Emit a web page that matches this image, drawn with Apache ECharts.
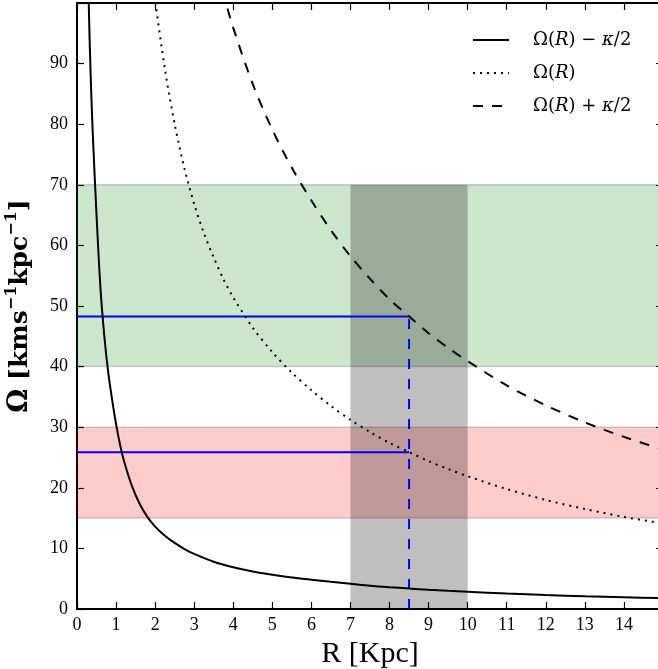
<!DOCTYPE html>
<html>
<head>
<meta charset="utf-8">
<script src="https://cdn.jsdelivr.net/npm/echarts@6/dist/echarts.min.js"></script>
<style>
html,body{margin:0;padding:0;background:#fff;}
#chart{width:658px;height:669px;}
</style>
</head>
<body>
<div id="chart"></div>
<script>
// ---- data ----
const R_MINUS = [0.2,0.25,0.3,0.35,0.4,0.5,0.6,0.7,0.8,0.9,1.0,1.1,1.2,1.4,1.6,1.8,2.0,2.25,2.5,2.75,3.0,3.5,4.0,4.5,5.0,5.5,6.0,6.5,7.0,7.5,8.0,8.5,9.0,9.5,10,11,12,13,14,15];
const OMEGA_MINUS = [150,120,100,88,79,65,53,45,39,34.5,30.5,27.2,24.5,20.4,17.4,15.2,13.6,12.1,10.9,9.9,9.1,7.8,6.9,6.2,5.66,5.2,4.83,4.48,4.17,3.85,3.6,3.38,3.18,3.0,2.85,2.55,2.3,2.1,1.93,1.78];

const R_MID = [1.9,2.0,2.25,2.5,2.75,3.0,3.25,3.5,3.75,4.0,4.5,5.0,5.5,6.0,6.5,7.0,7.5,8.0,8.5,9.0,9.5,10,11,12,13,14,15];
const OMEGA_MID = [105.8,100.5,89.1,80.0,72.7,66.8,62.0,58.0,54.4,51.4,46.4,42.4,39.0,36.1,33.5,31.2,29.2,27.4,25.9,24.4,23.1,21.9,19.8,18.0,16.5,15.2,14.1];

const R_PLUS = [3.5,3.75,4.0,4.5,5.0,5.5,6.0,6.5,7.0,7.5,8.0,8.5,9.0,9.5,10,11,12,13,14,15];
const OMEGA_PLUS = [108.2,101.5,95.9,86.6,79.1,72.8,67.4,62.5,58.2,54.5,51.1,48.3,45.5,43.1,40.9,36.9,33.6,30.8,28.4,26.3];

const R_SUN = 8.5;
const OMEGA_SUN_PLUS = 48.28;
const OMEGA_SUN = 25.85;

const GREEN_BAND = [40, 70];
const RED_BAND = [15, 30];
const GRAY_BAND_R = [7, 10];
const GRAY_BAND_TOP = 70;

const X_TICKS = [0,1,2,3,4,5,6,7,8,9,10,11,12,13,14];
const Y_TICKS = [0,10,20,30,40,50,60,70,80,90];

const LEGEND_NAMES = ['minus','mid','plus'];

// ---- chart ----
const zip = (xs, ys) => xs.map((x, i) => [x, ys[i]]);
const serif = 'Liberation Serif';
const dserif = 'DejaVu Serif';
const chart = echarts.init(document.getElementById('chart'), null, {renderer: 'canvas'});

const legendText = {
  minus: '{sp|}{u|Ω(}{i|R}{u|) − }{i|κ}{u|/2}',
  mid: '{sp|}{u|Ω(}{i|R}{u|)}',
  plus: '{sp|}{u|Ω(}{i|R}{u|) + }{i|κ}{u|/2}'
};

const option = {
  animation: false,
  backgroundColor: '#fff',
  grid: {left: 77, right: -5, top: 3, bottom: 60, containLabel: false, outerBoundsMode: 'none'},
  legend: {
    orient: 'vertical',
    left: 467,
    top: 25,
    itemWidth: 36,
    itemHeight: 20,
    itemGap: 13,
    data: LEGEND_NAMES,
    itemStyle: {color: 'rgba(0,0,0,0)', borderColor: 'rgba(0,0,0,0)', borderWidth: 0},
    formatter: n => legendText[n],
    textStyle: {
      fontFamily: dserif, fontSize: 18, color: '#000', lineHeight: 20,
      rich: {
        sp: {width: 19},
        u: {fontFamily: dserif, fontSize: 18, color: '#000', lineHeight: 20},
        i: {fontFamily: dserif, fontSize: 18, fontStyle: 'italic', color: '#000', lineHeight: 20}
      }
    }
  },
  xAxis: [{
    type: 'value', min: 0, max: 15, interval: 1,
    name: 'R [Kpc]', nameLocation: 'middle', nameGap: 24,
    nameTextStyle: {fontFamily: serif, fontSize: 30, color: '#000'},
    axisLine: {show: true, lineStyle: {color: '#000', width: 2}},
    axisTick: {show: true, inside: true, length: 7, lineStyle: {color: '#000', width: 1.2}},
    axisLabel: {
      fontFamily: serif, fontSize: 18, color: '#000', margin: 7,
      formatter: v => (X_TICKS.indexOf(v) >= 0 ? String(v) : '')
    },
    splitLine: {show: false}
  }, {
    type: 'value', min: 0, max: 15, interval: 1, position: 'top',
    axisLine: {show: true, onZero: false, lineStyle: {color: '#000', width: 2}},
    axisTick: {show: true, inside: true, length: 7, lineStyle: {color: '#000', width: 1.2}},
    axisLabel: {show: false},
    splitLine: {show: false}
  }],
  yAxis: [{
    type: 'value', min: 0, max: 100, interval: 10,
    name: '{o|Ω} {t|[kms}{s|−1}{t|kpc}{s|−1}{t|]}',
    nameLocation: 'middle', nameGap: 41,
    nameTextStyle: {
      fontFamily: dserif, fontSize: 25, fontWeight: 'bold', color: '#000',
      rich: {
        o: {fontFamily: dserif, fontSize: 27, fontWeight: 'bold', color: '#000', lineHeight: 32},
        t: {fontFamily: dserif, fontSize: 25, fontWeight: 'bold', color: '#000', lineHeight: 32},
        s: {fontFamily: dserif, fontSize: 16, fontWeight: 'bold', color: '#000', verticalAlign: 'top', lineHeight: 18}
      }
    },
    axisLine: {show: true, lineStyle: {color: '#000', width: 2}},
    axisTick: {show: true, inside: true, length: 7, lineStyle: {color: '#000', width: 1.2}},
    axisLabel: {
      fontFamily: serif, fontSize: 18, color: '#000', margin: 9,
      formatter: v => (Y_TICKS.indexOf(v) >= 0 ? String(v) : '')
    },
    splitLine: {show: false}
  }, {
    type: 'value', min: 0, max: 100, interval: 10, position: 'right',
    axisLine: {show: true, onZero: false, lineStyle: {color: '#000', width: 2}},
    axisTick: {show: true, inside: true, length: 7, lineStyle: {color: '#000', width: 1.2}},
    axisLabel: {show: false},
    splitLine: {show: false}
  }],
  series: [
    {
      name: 'bands', type: 'line', data: [], z: 1, silent: true,
      markArea: {
        silent: true,
        data: [
          [{xAxis: 0, yAxis: GREEN_BAND[0], itemStyle: {color: 'rgba(0,128,0,0.2)', borderColor: 'rgba(0,0,0,0.18)', borderWidth: 1.5}},
           {xAxis: 15, yAxis: GREEN_BAND[1]}],
          [{xAxis: 0, yAxis: RED_BAND[0], itemStyle: {color: 'rgba(255,0,0,0.2)', borderColor: 'rgba(0,0,0,0.18)', borderWidth: 1.5}},
           {xAxis: 15, yAxis: RED_BAND[1]}],
          [{xAxis: GRAY_BAND_R[0], yAxis: 0, itemStyle: {color: 'rgba(0,0,0,0.25)', borderWidth: 0}},
           {xAxis: GRAY_BAND_R[1], yAxis: GRAY_BAND_TOP}]
        ],
        label: {show: false}
      }
    },
    {
      name: 'sunPlus', type: 'line', z: 3, symbol: 'none', silent: true,
      data: [[0, OMEGA_SUN_PLUS], [R_SUN, OMEGA_SUN_PLUS]],
      lineStyle: {color: '#0000ff', width: 2}
    },
    {
      name: 'sun', type: 'line', z: 3, symbol: 'none', silent: true,
      data: [[0, OMEGA_SUN], [R_SUN, OMEGA_SUN]],
      lineStyle: {color: '#0000ff', width: 2}
    },
    {
      name: 'sunV', type: 'line', z: 3, symbol: 'none', silent: true,
      data: [[R_SUN, 0], [R_SUN, OMEGA_SUN_PLUS]],
      lineStyle: {color: '#0000ff', width: 2, type: [10, 10]}
    },
    {
      name: 'minus', type: 'line', z: 4, symbol: 'none', smooth: 0.3, clip: true,
      data: zip(R_MINUS, OMEGA_MINUS),
      lineStyle: {color: '#000', width: 2}, itemStyle: {color: '#000'}
    },
    {
      name: 'mid', type: 'line', z: 4, symbol: 'none', smooth: 0.3, clip: true,
      data: zip(R_MID, OMEGA_MID),
      lineStyle: {color: '#000', width: 2, type: [2, 5]}, itemStyle: {color: '#000'}
    },
    {
      name: 'plus', type: 'line', z: 4, symbol: 'none', smooth: 0.3, clip: true,
      data: zip(R_PLUS, OMEGA_PLUS),
      lineStyle: {color: '#000', width: 2, type: [10, 9]}, itemStyle: {color: '#000'}
    }
  ]
};
chart.setOption(option);
</script>
</body>
</html>
